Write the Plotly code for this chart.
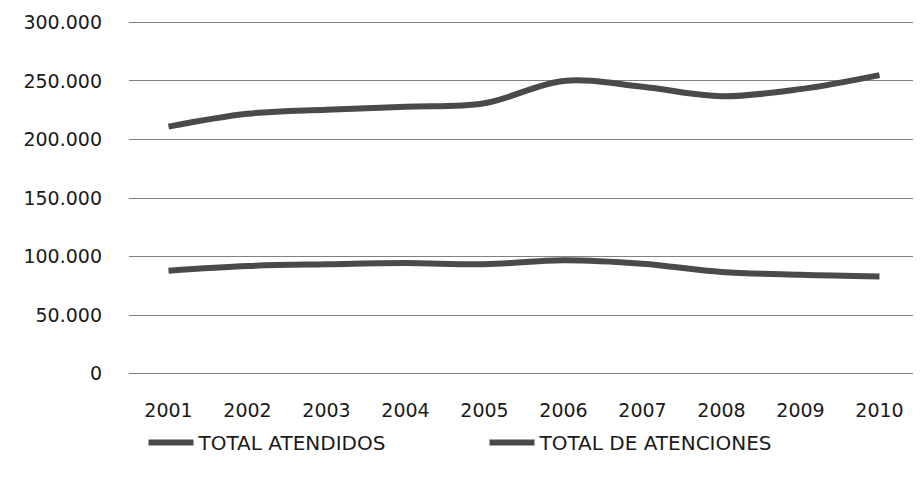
import plotly.graph_objects as go

years = ["2001", "2002", "2003", "2004", "2005", "2006", "2007", "2008", "2009", "2010"]
total_atendidos = [88000, 92000, 93500, 94500, 93500, 97000, 94000, 87000, 84500, 83000]
total_atenciones = [211000, 222000, 225500, 228000, 231000, 250000, 245000, 237000, 243000, 255000]

y_ticks = [0, 50000, 100000, 150000, 200000, 250000, 300000]
y_labels = ["0", "50.000", "100.000", "150.000", "200.000", "250.000", "300.000"]

fig = go.Figure()
fig.add_trace(go.Scatter(
    x=years, y=total_atendidos, name="TOTAL ATENDIDOS",
    mode="lines", line=dict(color="#4a4a4a", width=6, shape="spline"),
))
fig.add_trace(go.Scatter(
    x=years, y=total_atenciones, name="TOTAL DE ATENCIONES",
    mode="lines", line=dict(color="#4a4a4a", width=6, shape="spline"),
))

# page body has an 8px margin, so margins are offset to land the plot where the original has it
fig.update_layout(
    width=921, height=482,
    margin=dict(l=121, r=10, t=12, b=115, autoexpand=False),
    paper_bgcolor="white", plot_bgcolor="white",
    font=dict(family="DejaVu Sans, sans-serif", color="#1a1a1a", size=18),
    legend=dict(orientation="h", x=0.45, xanchor="center", y=-0.19, yanchor="middle",
                font=dict(size=20), itemwidth=45, traceorder="normal",
                entrywidth=281),
    showlegend=True,
)
fig.update_xaxes(
    type="category", range=[-0.5, 9.5], showgrid=False, showline=False, ticks="",
    tickfont=dict(size=19), ticklabelstandoff=22, automargin=False,
)
# range padded a little so the 300.000 gridline and label are kept
fig.update_yaxes(
    range=[-1000, 302000], tickvals=y_ticks, ticktext=y_labels,
    showgrid=True, gridcolor="#808080", gridwidth=1,
    zeroline=False,
    tickfont=dict(size=19), ticklabelstandoff=26, automargin=False,
)

fig.write_html("out.html")
